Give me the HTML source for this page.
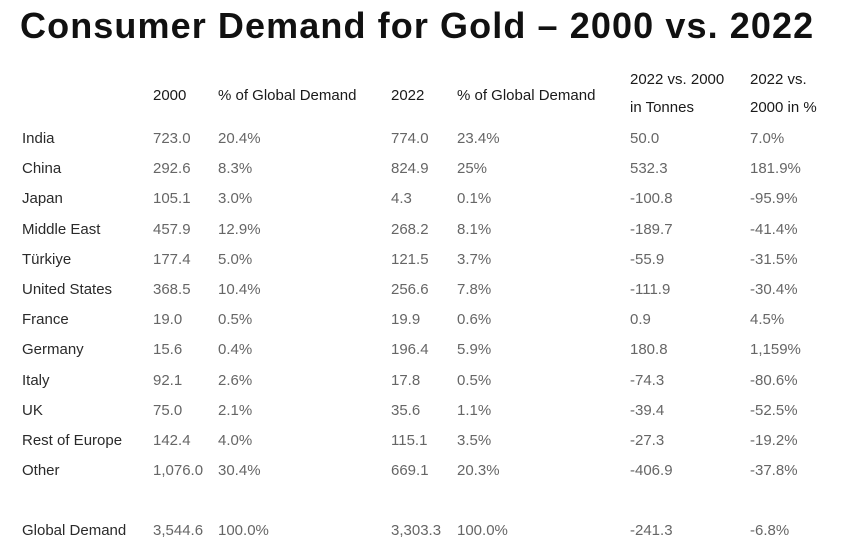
<!DOCTYPE html>
<html><head><meta charset="utf-8"><style>
body{margin:0;width:848px;height:557px;background:#fff;font-family:"Liberation Sans",sans-serif;position:relative;overflow:hidden}
h1{position:absolute;left:20px;top:5px;margin:0;font-size:36px;font-weight:900;color:#111;letter-spacing:1.1px}
.t{position:absolute;font-size:15px;white-space:nowrap;line-height:18px}
.h{color:#1a1a1a;font-weight:normal}
.l{color:#2a2a2a}
.v{color:#666}
</style></head><body>
<h1>Consumer Demand for Gold – 2000 vs. 2022</h1>
<div id="tbl"></div>
<script>
const headers=[["2000",153,87],["% of Global Demand",218,87],["2022",391,87],["% of Global Demand",457,87],["2022 vs. 2000",630,71],["in Tonnes",630,99],["2022 vs.",750,71],["2000 in %",750,99]];
const countries=["India","China","Japan","Middle East","Türkiye","United States","France","Germany","Italy","UK","Rest of Europe","Other","Global Demand"];
const d2000=["723.0","292.6","105.1","457.9","177.4","368.5","19.0","15.6","92.1","75.0","142.4","1,076.0","3,544.6"];
const p2000=["20.4%","8.3%","3.0%","12.9%","5.0%","10.4%","0.5%","0.4%","2.6%","2.1%","4.0%","30.4%","100.0%"];
const d2022=["774.0","824.9","4.3","268.2","121.5","256.6","19.9","196.4","17.8","35.6","115.1","669.1","3,303.3"];
const p2022=["23.4%","25%","0.1%","8.1%","3.7%","7.8%","0.6%","5.9%","0.5%","1.1%","3.5%","20.3%","100.0%"];
const dTon=["50.0","532.3","-100.8","-189.7","-55.9","-111.9","0.9","180.8","-74.3","-39.4","-27.3","-406.9","-241.3"];
const dPct=["7.0%","181.9%","-95.9%","-41.4%","-31.5%","-30.4%","4.5%","1,159%","-80.6%","-52.5%","-19.2%","-37.8%","-6.8%"];
const tbl=document.getElementById('tbl');
function add(txt,x,y,cls,name){const e=document.createElement('div');e.className='t '+cls;e.textContent=txt;e.style.left=x+'px';e.style.top=y+'px';


tbl.appendChild(e);}
headers.forEach(h=>add(h[0],h[1],h[2],'h','column-header'));
const cols=[[d2000,153,'value-2000'],[p2000,218,'pct-2000'],[d2022,391,'value-2022'],[p2022,457,'pct-2022'],[dTon,630,'change-tonnes'],[dPct,750,'change-pct']];
countries.forEach((c,i)=>{const y=(i<12?130+i*30.2:522);
add(c,22,y,'l','row-label');
cols.forEach(col=>add(col[0][i],col[1],y,'v',col[2]));});
</script>
</body></html>
